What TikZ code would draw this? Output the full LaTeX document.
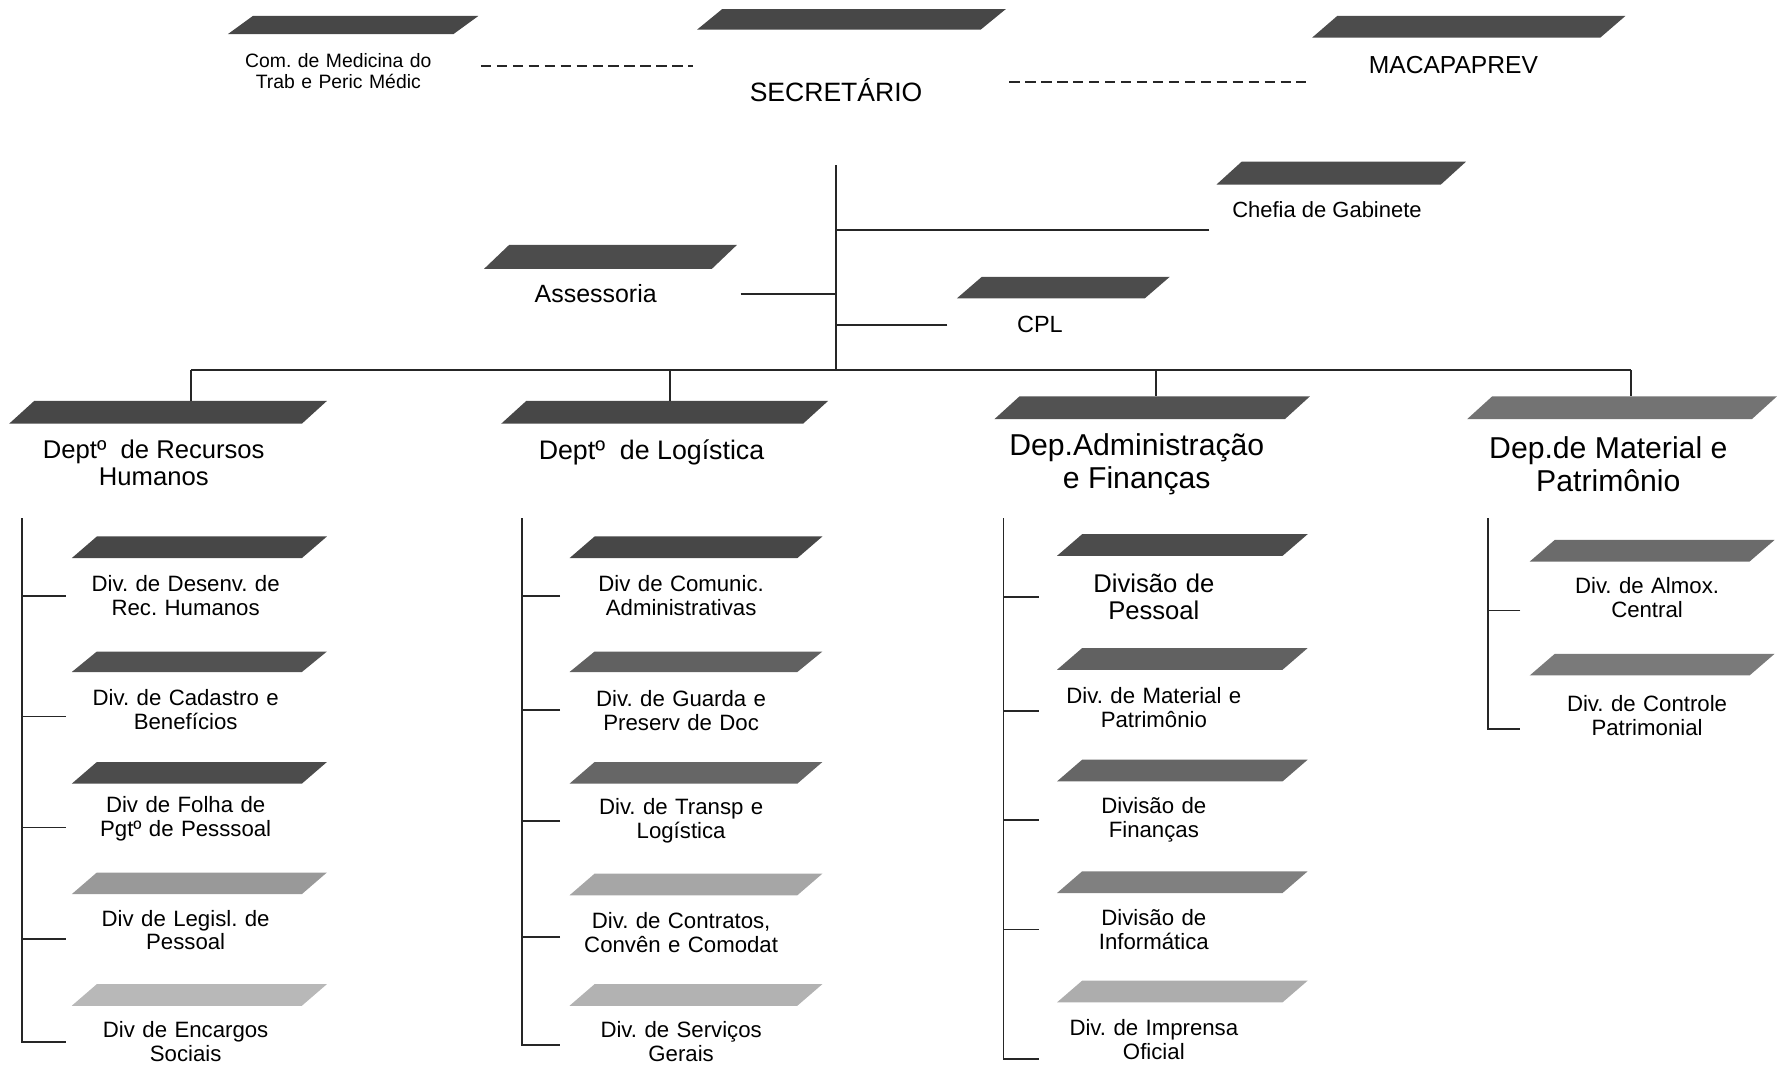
\documentclass[tikz,border=0pt]{standalone}
\usepackage{fontspec}
\setmainfont{Liberation Sans}
\frenchspacing
\newcommand{\pbox}[5]{\fill[black!#5] (#1,#2) -- ({#1+22},#4) -- (#3,#4) -- ({#3-22},#2) -- cycle;}
\begin{document}
\begin{tikzpicture}[x=1pt,y=-1pt,
  every node/.style={inner sep=0pt, align=center, text=black},
  conn/.style={line width=1.6pt, black!85},
  dashc/.style={line width=1.6pt, black!85, dash pattern=on 9pt off 5pt},
  sublbl/.style={font=\fontsize{19.5}{21}\selectfont, text width=#1},
  deptlbl/.style={font=\fontsize{22.5}{23.5}\selectfont},
  bigdept/.style={font=\fontsize{26.5}{29}\selectfont}]
\useasboundingbox (0,0) rectangle (1568,940);
% ---------- top row
\pbox{200}{30}{420}{14}{72}
\node[font=\fontsize{17}{19}\selectfont, text width=250pt] (com) at (297,62.5) {Com. de Medicina do\\Trab e Peric Médic};
\pbox{612}{26}{883}{8}{72}
\node[font=\fontsize{23.3}{26}\selectfont, minimum width=250pt, minimum height=132pt] (sec) at (734,79) {SECRETÁRIO};
\pbox{1152}{33}{1427}{14}{70}
\node[font=\fontsize{21.6}{24}\selectfont, minimum width=258pt] (mac) at (1276,57) {MACAPAPREV};
\coordinate (dl) at ([yshift=4.5pt]com.east);
\draw[dashc] (dl) -- (dl -| sec.west);
\coordinate (dr) at ([xshift=27pt,yshift=7pt]sec.east);
\draw[dashc] (dr) -- (dr -| mac.west);
% ---------- staff units
\coordinate (vbot) at (734,325);
\draw[conn] (sec.south) -- (vbot);
\pbox{1068}{162}{1287}{142}{70}
\node[font=\fontsize{19.3}{22}\selectfont, minimum width=206pt] (chef) at (1165,184) {Chefia de Gabinete};
\coordinate (cg) at ([yshift=-18pt]chef.west);
\draw[conn] (cg) -- (cg -| sec.south);
\pbox{425}{236}{647}{215}{70}
\node[font=\fontsize{21.9}{24}\selectfont, minimum width=254pt] (ass) at (523,258) {Assessoria};
\draw[conn] (ass.east) -- (ass.east -| sec.south);
\pbox{840}{262}{1027}{243}{70}
\node[font=\fontsize{20.6}{24}\selectfont, minimum width=162pt] (cpl) at (913,285) {CPL};
\draw[conn] (cpl.west) -- (cpl.west -| sec.south);
% ---------- departments
\coordinate (b1) at (168,325);
\coordinate (b2) at (588,325);
\coordinate (b3) at (1015,325);
\coordinate (b4) at (1432,325);
\draw[conn] (b1) -- (b4);
\pbox{8}{372}{287}{352}{72}
\node[deptlbl, minimum height=109pt] (rh) at (135,406.5) {Deptº\ \ de Recursos\\Humanos};
\pbox{440}{372}{727}{352}{72}
\node[deptlbl, font=\fontsize{23.5}{25}\selectfont, minimum height=90pt] (lg) at (572,397) {Deptº\ \ de Logística};
\pbox{873}{368}{1150}{348}{68}
\node[bigdept, minimum height=119pt] (ad) at (998,407.5) {Dep.Administração\\e Finanças};
\pbox{1288}{368}{1560}{348}{55}
\node[bigdept, minimum height=119pt] (mt) at (1412,407.5) {Dep.de Material e\\Patrimônio};
\draw[conn] (b1) -- (b1 |- rh.north);
\draw[conn] (b2) -- (b2 |- lg.north);
\draw[conn] (b3) -- (b3 |- ad.north);
\draw[conn] (b4) -- (b4 |- mt.north);
% ---------- RH divisions
\pbox{63}{490}{287}{471}{72}
\node[sublbl=210pt] (r1) at (163,523) {Div. de Desenv. de\\Rec. Humanos};
\pbox{63}{590}{287}{572}{68}
\node[sublbl=210pt] (r2) at (163,623) {Div. de Cadastro e\\Benefícios};
\pbox{63}{688}{287}{669}{70}
\node[sublbl=210pt] (r3) at (163,718.5) {Div de Folha de\\Pgtº de Pesssoal};
\pbox{63}{785}{287}{766}{40}
\node[sublbl=210pt] (r4) at (163,816.5) {Div de Legisl. de\\Pessoal};
\pbox{63}{883}{287}{864}{28}
\node[sublbl=210pt] (r5) at (163,914.5) {Div de Encargos\\Sociais};
\coordinate (rv) at (19,455);
\draw[conn] (rv) |- (r5.west);
\foreach \n/\s in {r1/0,r2/-6,r3/-8,r4/-8}{
  \coordinate (t) at ([yshift=\s pt]\n.west);
  \draw[conn] (t) -- (t -| rv);}
% ---------- Logistica divisions
\pbox{500}{490}{722}{471}{72}
\node[sublbl=212pt] (l1) at (598,522.5) {Div de Comunic.\\Administrativas};
\pbox{500}{590}{722}{572}{62}
\node[sublbl=212pt] (l2) at (598,623.5) {Div. de Guarda e\\Preserv de Doc};
\pbox{500}{688}{722}{669}{60}
\node[sublbl=212pt] (l3) at (598,720.5) {Div. de Transp e\\Logística};
\pbox{500}{786}{722}{767}{35}
\node[sublbl=212pt] (l4) at (598,818.5) {Div. de Contratos,\\Convên e Comodat};
\pbox{500}{883}{722}{864}{30}
\node[sublbl=212pt] (l5) at (598,914.5) {Div. de Serviços\\Gerais};
\coordinate (lv) at (458,455);
\coordinate (l5t) at ([yshift=-3pt]l5.west);
\draw[conn] (lv) |- (l5t);
\foreach \n/\s in {l1/-1,l2/0,l3/0,l4/-4}{
  \coordinate (t) at ([yshift=\s pt]\n.west);
  \draw[conn] (t) -- (t -| lv);}
% ---------- Administracao divisions
\pbox{928}{488}{1148}{469}{70}
\node[sublbl=202pt, font=\fontsize{22.5}{24}\selectfont] (a1) at (1013,524) {Divisão de\\Pessoal};
\pbox{928}{588}{1148}{569}{62}
\node[sublbl=202pt] (a2) at (1013,621) {Div. de Material e\\Patrimônio};
\pbox{928}{686}{1148}{667}{60}
\node[sublbl=202pt] (a3) at (1013,720) {Divisão de\\Finanças};
\pbox{928}{784}{1148}{765}{50}
\node[sublbl=202pt] (a4) at (1013,816) {Divisão de\\Informática};
\pbox{928}{880}{1148}{861}{32}
\node[sublbl=202pt] (a5) at (1013,913) {Div. de Imprensa\\Oficial};
\coordinate (av) at (881,455);
\coordinate (a5t) at ([yshift=-17pt]a5.west);
\draw[conn] (av) |- (a5t);
\foreach \n/\s in {a1/0,a2/-3,a3/0,a4/0}{
  \coordinate (t) at ([yshift=\s pt]\n.west);
  \draw[conn] (t) -- (t -| av);}
% ---------- Material divisions
\pbox{1343}{493}{1558}{474}{58}
\node[sublbl=222pt] (m1) at (1446,525) {Div. de Almox.\\Central};
\pbox{1343}{593}{1558}{574}{52}
\node[sublbl=222pt] (m2) at (1446,628) {Div. de Controle\\Patrimonial};
\coordinate (mv) at (1306,455);
\coordinate (m1t) at ([yshift=-11pt]m1.west);
\coordinate (m2t) at ([yshift=-12pt]m2.west);
\draw[conn] (mv) |- (m2t);
\draw[conn] (m1t) -- (m1t -| mv);
\end{tikzpicture}
\end{document}
